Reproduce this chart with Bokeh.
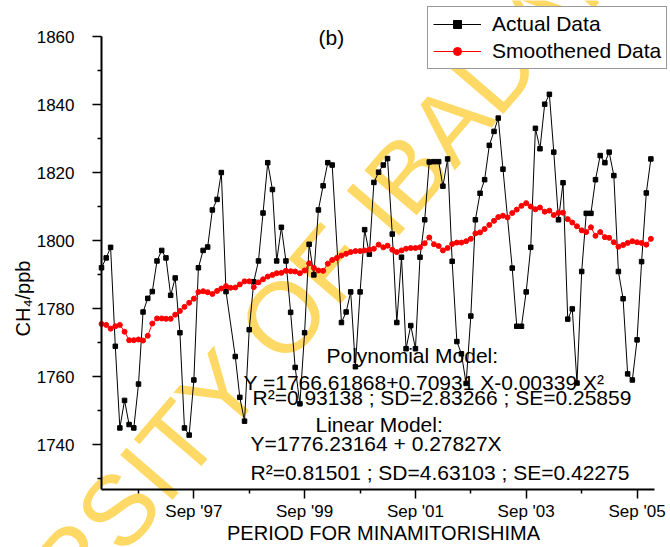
import math
import pandas as pd
from bokeh.plotting import figure
from bokeh.models import (Range1d, FixedTicker, DatetimeTickFormatter, Legend,
                          LegendItem, Label, ColumnDataSource)
from bokeh.embed import file_html
from bokeh.resources import INLINE

# ---------------- data ----------------
first_month = "1996-01-01"
n_months = 120

# monthly CH4 (ppb); None = month without a value
actual = [1792.0, 1794.9, 1798.0, 1768.9, 1744.9, 1753.0, 1745.9, 1744.9, 1757.8, 1779.0,
          1783.0, 1785.0, 1794.0, 1797.1, 1794.9, 1783.9, 1789.0, 1772.9, 1744.9, 1742.8,
          1759.0, 1792.0, 1797.1, 1798.1, 1809.0, 1812.1, 1820.0, 1785.0, None, 1765.9,
          1753.9, 1746.9, 1773.8, 1787.9, 1794.0, 1808.1, 1822.9, 1815.0, 1794.0, 1803.9,
          1794.0, 1778.9, 1762.7, 1752.0, 1772.9, 1798.9, 1789.9, 1809.0, 1816.1, 1822.9,
          1822.2, None, 1775.9, 1779.0, 1784.9, 1762.9, 1784.9, 1803.2, 1796.0, 1817.1,
          1820.1, 1822.2, 1824.1, 1801.9, 1775.9, 1795.1, 1768.2, 1775.0, 1768.2, 1795.1,
          1806.1, 1823.1, 1823.2, 1823.2, 1816.0, 1824.0, 1793.9, 1770.3, 1766.7, 1758.0,
          1777.8, 1806.1, 1813.9, 1817.9, 1828.0, 1832.1, 1836.0, 1821.0, None, 1791.9,
          1774.8, 1774.8, 1784.9, 1798.0, 1833.0, 1827.0, 1840.1, 1843.0, 1826.0, 1806.1,
          1817.0, 1776.9, 1779.9, 1758.1, 1790.9, 1808.0, 1808.0, 1817.9, 1825.0, 1822.9,
          1826.0, 1819.1, 1790.9, 1782.9, 1760.8, 1759.0, 1770.8, 1793.8, 1814.0, 1824.0]

smoothed = [1775.5, 1775.2, 1774.1, 1774.8, 1775.2, 1773.2, 1770.7, 1770.7, 1770.9, 1770.6,
            1772.0, 1775.6, 1777.1, 1777.1, 1777.0, 1777.0, 1778.2, 1779.3, 1780.5, 1781.7,
            1782.9, 1784.9, 1785.1, 1784.8, 1784.3, 1785.2, 1785.9, 1786.6, 1786.1, 1786.2,
            1787.1, 1788.0, 1788.0, 1786.3, 1787.7, 1788.6, 1789.4, 1789.9, 1790.4, 1790.5,
            1791.1, 1791.0, 1790.9, 1790.4, 1791.2, 1793.3, 1792.0, 1791.2, 1791.1, 1793.2,
            1794.3, 1794.9, 1795.6, 1796.1, 1796.6, 1796.9, 1796.9, 1797.1, 1797.3, 1797.6,
            1798.8, 1798.0, 1798.5, 1797.3, 1796.6, 1797.1, 1797.6, 1797.8, 1797.8, 1798.0,
            1799.2, 1800.9, 1798.9, 1798.4, 1797.1, 1797.8, 1799.0, 1799.4, 1799.4, 1799.8,
            1800.5, 1802.1, 1802.4, 1803.4, 1804.6, 1805.8, 1806.9, 1807.3, 1806.8, 1808.1,
            1809.1, 1810.2, 1811.0, 1810.0, 1809.2, 1809.7, 1808.5, 1808.8, 1807.5, 1808.2,
            1808.2, 1806.3, 1805.3, 1804.2, 1803.0, 1802.5, 1803.9, 1801.4, 1802.5, 1801.0,
            1800.8, 1799.5, 1798.2, 1798.7, 1799.3, 1799.8, 1799.5, 1799.3, 1798.8, 1800.5]

x_major = ["1997-09-01", "1999-09-01", "2001-09-01", "2003-09-01", "2005-09-01"]
x_minor = ["1996-09-01", "1998-09-01", "2000-09-01", "2002-09-01", "2004-09-01"]
y_major = [1740, 1760, 1780, 1800, 1820, 1840, 1860]
y_minor = [1730, 1750, 1770, 1790, 1810, 1830, 1850]
x_axis_span = ["1996-01-01", "2005-12-25"]
y_axis_span = [1726.8, 1860]

series_names = ["Actual Data", "Smoothened Data"]
x_title = "PERIOD FOR MINAMITORISHIMA"
y_title = "CH\u2084/ppb"
panel_tag = "(b)"
poly_lines = ["Polynomial Model:",
              "Y =1766.61868+0.70931 X-0.00339 X\u00b2",
              "R\u00b2=0.93138 ; SD=2.83266 ; SE=0.25859"]
lin_lines = ["Linear Model:",
             "Y=1776.23164 + 0.27827X",
             "R\u00b2=0.81501 ; SD=4.63103 ; SE=0.42275"]
watermark = "UNIVERSITY OF IBADAN"

# ---------------- build ----------------
W, H = 670, 547
AX_L, AX_R, AX_T, AX_B = 101, 654, 36, 489   # pixel box of the drawn axes

months = pd.date_range(first_month, periods=n_months, freq="MS")
act_x = [m for m, v in zip(months, actual) if v is not None]
act_y = [v for v in actual if v is not None]
src_a = ColumnDataSource(dict(x=act_x, y=act_y))
src_s = ColumnDataSource(dict(x=list(months), y=smoothed))

def ms(s):
    return pd.Timestamp(s).value / 1e6

t0, t1 = ms(x_axis_span[0]), ms(x_axis_span[1])
xs = (t1 - t0) / (AX_R - AX_L)
y0, y1 = y_axis_span
ys = (y1 - y0) / (AX_B - AX_T)

FONT = "Liberation Sans"

p = figure(width=W, height=H, x_axis_type="datetime",
           x_range=Range1d(t0 - AX_L * xs, t1 + (W - AX_R) * xs),
           y_range=Range1d(y0 - (H - AX_B) * ys, y1 + AX_T * ys),
           output_backend="svg", toolbar_location=None,
           min_border=0, min_border_left=0, min_border_right=0,
           min_border_top=0, min_border_bottom=0)
p.outline_line_color = None
p.xgrid.visible = False
p.ygrid.visible = False
p.background_fill_color = "white"
p.border_fill_color = "white"

def sy(cy):
    return H - cy

# watermark (behind everything)
p.add_layout(Label(x=-150, y=sy(821), x_units="screen", y_units="screen",
                   text=watermark, angle=0.862, text_font=FONT,
                   text_font_size="100px", text_color="#FFD966",
                   text_align="left", text_baseline="middle", level="underlay"))

la = p.line("x", "y", source=src_a, line_color="black", line_width=1)
sa = p.scatter("x", "y", source=src_a, marker="square", size=4.5,
               fill_color="black", line_color="black")
lr = p.line("x", "y", source=src_s, line_color="#FF0000", line_width=1)
sr = p.scatter("x", "y", source=src_s, marker="circle", size=5,
               fill_color="#FF0000", line_color="#FF0000")

# axes, drawn at fixed positions inside the full-canvas frame
xa = p.xaxis[0]
xa.fixed_location = y0
xa.bounds = (t0, t1)
xa.ticker = FixedTicker(ticks=[ms(t) for t in x_major], minor_ticks=[ms(t) for t in x_minor])
fmt = "%b '%y"
xa.formatter = DatetimeTickFormatter(years=fmt, months=fmt, days=fmt, hours=fmt,
                                     minutes=fmt, seconds=fmt, milliseconds=fmt,
                                     microseconds=fmt, hourmin=fmt, minsec=fmt)
xa.major_label_standoff = 3

ya = p.yaxis[0]
ya.fixed_location = t0
ya.bounds = (y0, y1)
ya.ticker = FixedTicker(ticks=y_major, minor_ticks=y_minor)
ya.major_label_standoff = 18

for ax in (xa, ya):
    ax.axis_line_width = 2
    ax.axis_line_color = "black"
    ax.major_tick_line_width = 1.5
    ax.minor_tick_line_width = 1.5
    ax.major_tick_line_color = "black"
    ax.minor_tick_line_color = "black"
    ax.major_tick_out = 9
    ax.major_tick_in = 0
    ax.minor_tick_out = 4
    ax.minor_tick_in = 0
    ax.major_label_text_font = FONT
    ax.major_label_text_font_size = "17px"
    ax.major_label_text_color = "black"

# axis titles
p.add_layout(Label(x=22, y=sy(298), x_units="screen", y_units="screen", text=y_title,
                   angle=math.pi / 2, text_font=FONT, text_font_size="20px",
                   text_color="black", text_align="center", text_baseline="middle"))
p.add_layout(Label(x=383, y=sy(532), x_units="screen", y_units="screen", text=x_title,
                   text_font=FONT, text_font_size="20px",
                   text_color="black", text_align="center", text_baseline="middle"))

# legend
legend = Legend(items=[LegendItem(label=series_names[0], renderers=[la, sa]),
                       LegendItem(label=series_names[1], renderers=[lr, sr])],
                location=(427, sy(69)), orientation="vertical",
                label_text_font=FONT, label_text_font_size="21px",
                label_text_color="black",
                glyph_width=48, glyph_height=20, label_standoff=11,
                padding=5, spacing=3, margin=0,
                border_line_color="#333333", border_line_width=1,
                background_fill_color="white", background_fill_alpha=1.0)
p.add_layout(legend)

def add_text(txt, cx, cy, baseline="alphabetic"):
    p.add_layout(Label(x=cx, y=sy(cy), x_units="screen", y_units="screen", text=txt,
                       text_font=FONT, text_font_size="21px", text_color="black",
                       text_align="left", text_baseline=baseline))

add_text(panel_tag, 318, 37, baseline="middle")
add_text(poly_lines[0], 326, 355)
add_text(poly_lines[1], 243, 382)
add_text(poly_lines[2], 252, 397)
add_text(lin_lines[0], 315, 424)
add_text(lin_lines[1], 250, 443)
add_text(lin_lines[2], 250, 472)

open("out.html", "w").write(file_html(p, INLINE))
